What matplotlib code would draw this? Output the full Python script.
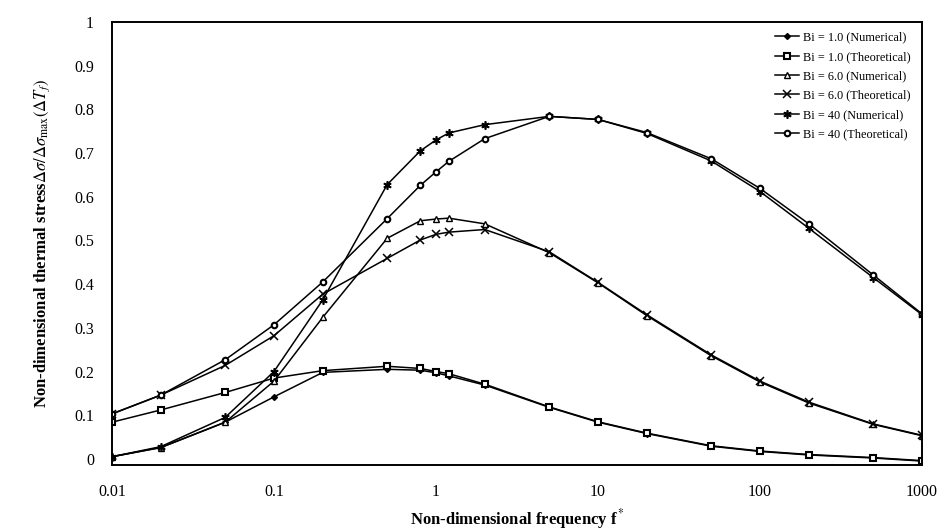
import matplotlib
matplotlib.use("Agg")
import matplotlib.pyplot as plt

plt.rcParams['font.family'] = ['Liberation Serif', 'DejaVu Serif']
plt.rcParams['mathtext.fontset'] = 'stix'

# frequencies shared by all series
freq = [0.01, 0.02, 0.05, 0.1, 0.2, 0.5, 0.8, 1, 1.2, 2, 5, 10, 20, 50, 100, 200, 500, 1000]

bi1_num = [0.005, 0.026, 0.084, 0.142, 0.198, 0.205, 0.203, 0.197, 0.19, 0.169,
           0.118, 0.084, 0.058, 0.029, 0.017, 0.009, 0.002, -0.005]
bi1_theo = [0.084, 0.112, 0.152, 0.185, 0.202, 0.212, 0.207, 0.2, 0.195, 0.171,
            0.119, 0.085, 0.059, 0.03, 0.018, 0.01, 0.003, -0.004]
bi6_num = [0.005, 0.026, 0.084, 0.178, 0.324, 0.505, 0.545, 0.549, 0.551, 0.538,
           0.472, 0.403, 0.328, 0.236, 0.176, 0.128, 0.079, 0.053]
bi6_theo = [0.103, 0.146, 0.214, 0.282, 0.377, 0.459, 0.501, 0.514, 0.519, 0.525,
            0.474, 0.404, 0.33, 0.238, 0.178, 0.13, 0.08, 0.054]
bi40_num = [0.005, 0.028, 0.095, 0.2, 0.364, 0.628, 0.705, 0.73, 0.746, 0.765,
            0.784, 0.777, 0.745, 0.682, 0.612, 0.528, 0.415, 0.33]
bi40_theo = [0.103, 0.146, 0.227, 0.307, 0.405, 0.55, 0.626, 0.657, 0.681, 0.733,
             0.784, 0.777, 0.747, 0.687, 0.619, 0.538, 0.421, 0.332]

labels = ['Bi = 1.0 (Numerical)', 'Bi = 1.0 (Theoretical)', 'Bi = 6.0 (Numerical)',
          'Bi = 6.0 (Theoretical)', 'Bi = 40 (Numerical)', 'Bi = 40 (Theoretical)']

xticks = [0.01, 0.1, 1, 10, 100, 1000]
xticklabels = ['0.01', '0.1', '1', '10', '100', '1000']
yticks = [0, 0.1, 0.2, 0.3, 0.4, 0.5, 0.6, 0.7, 0.8, 0.9, 1]
yticklabels = ['0', '0.1', '0.2', '0.3', '0.4', '0.5', '0.6', '0.7', '0.8', '0.9', '1']

fig = plt.figure(figsize=(9.44, 5.32), dpi=100)
ax = fig.add_axes([112 / 944, 1 - 465 / 532, 810 / 944, 443 / 532])

styles = [
    dict(marker='D', ms=3.0, mfc='black'),
    dict(marker='s', ms=3.8, mfc='white', mew=1.5),
    dict(marker='^', ms=4.5, mfc='white', mew=1.0),
    dict(marker='x', ms=5.5, mew=1.1),
    dict(marker=(6, 2, 0), ms=6, mew=1.2),
    dict(marker='o', ms=4.0, mfc='white', mew=1.5),
]
series = [bi1_num, bi1_theo, bi6_num, bi6_theo, bi40_num, bi40_theo]
for vals, lab, st in zip(series, labels, styles):
    ax.plot(freq, vals, color='black', lw=1.1, mec='black', label=lab, **st)

ax.set_xscale('log')
ax.set_xlim(0.01, 1000)
ax.set_ylim(-0.014, 1.0)
ax.set_xticks(xticks)
ax.set_xticklabels(xticklabels)
ax.minorticks_off()
ax.set_yticks(yticks)
ax.set_yticklabels(yticklabels)
ax.tick_params(axis='both', length=0, labelsize=11.5)
ax.tick_params(axis='x', pad=14)
ax.tick_params(axis='y', pad=13)
for sp in ax.spines.values():
    sp.set_linewidth(1.4)

ax.set_xlabel('Non-dimensional frequency f$^*$', fontsize=12, fontweight='bold', labelpad=5)
ax.set_ylabel(r'Non-dimensional thermal stress$\Delta\sigma/\Delta\sigma_{\rm max}(\Delta T_f)$',
              fontsize=12, fontweight='bold', labelpad=16)

ax.legend(loc='upper right', bbox_to_anchor=(0.995, 0.995), frameon=False,
          fontsize=8.8, handlelength=2.0, handletextpad=0.3, labelspacing=0.6,
          borderaxespad=0.2)

fig.savefig('out.png', dpi=100)
